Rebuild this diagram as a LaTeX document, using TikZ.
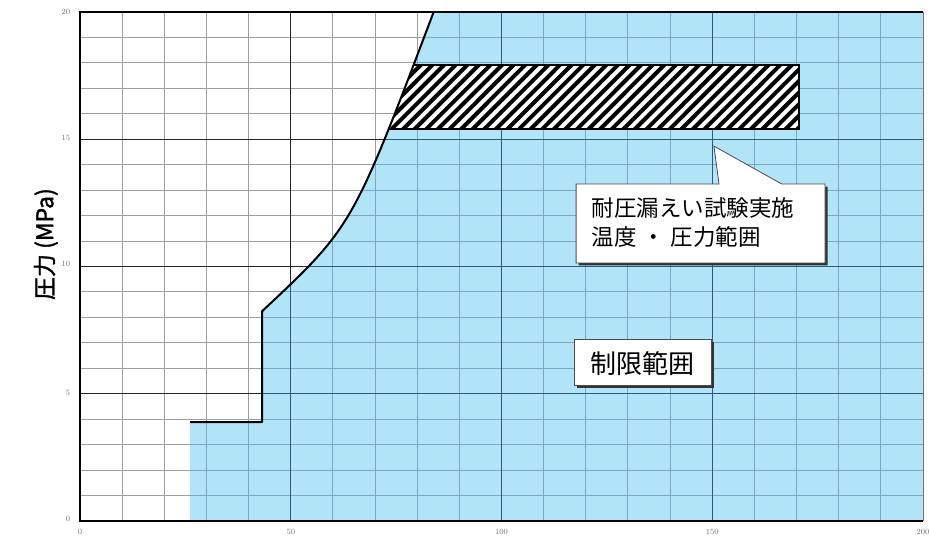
\documentclass[tikz,border=0pt]{standalone}
\usepackage{fontspec}
\newfontfamily\jp{Noto Sans CJK JP}
\newfontfamily\jpb[FakeBold=1.5]{Noto Sans CJK JP}
\definecolor{regionblue}{RGB}{178,228,247}
\definecolor{gridbluecol}{RGB}{120,168,196}
\definecolor{majorbluecol}{RGB}{45,90,120}
\tikzset{
  minorline/.style={black!38, line width=1pt},
  majorline/.style={black!85, line width=1.4pt},
  minorbl/.style={gridbluecol, line width=1pt},
  majorbl/.style={majorbluecol, line width=1.4pt},
  bound/.style={black, line width=2pt, line join=round},
  ticklbl/.style={font=\fontsize{8}{9}\selectfont, text=black!55, inner sep=0pt},
  labelbox/.style={fill=white, draw=black!70, line width=0.8pt},
  shadowbox/.style={fill=black!80},
}
\begin{document}
\begin{tikzpicture}[x=4.215pt, y=25.45pt]
\useasboundingbox (-18.98,-0.6287) rectangle (201.42,20.472);
\fill[white] (-18.98,-0.6287) rectangle (201.42,20.472);
% grey grid over whole plot
\foreach \t in {10,20,...,190} \draw[minorline] (\t,0) -- (\t,20);
\foreach \p in {1,...,19} \draw[minorline] (0,\p) -- (200,\p);
\foreach \t in {50,100,150} \draw[majorline] (\t,0) -- (\t,20);
\foreach \p in {5,10,15} \draw[majorline] (0,\p) -- (200,\p);
% blue restricted region
\def\bluepath{(26.1,0) -- (26.1,3.89) -- (43.18,3.89) -- (43.18,8.24) .. controls (64.67,11.576) and (64.67,11.576) .. (83.9,20) -- (200,20) -- (200,0) -- cycle}
\fill[regionblue] \bluepath;
\begin{scope}
  \clip \bluepath;
  \foreach \t in {10,20,...,190} \draw[minorbl] (\t,0) -- (\t,20);
  \foreach \p in {1,...,19} \draw[minorbl] (0,\p) -- (200,\p);
  \foreach \t in {50,100,150} \draw[majorbl] (\t,0) -- (\t,20);
  \foreach \p in {5,10,15} \draw[majorbl] (0,\p) -- (200,\p);
  % hatched test range
  \begin{scope}
    \clip (60,15.4) rectangle (170.5,17.92);
    \fill[white] (60,15) rectangle (175,18.5);
    \foreach \i in {0,...,46} \draw[line width=4pt] ({55+\i*2.75},15) -- ++(18.1,3);
  \end{scope}
  \draw[black, line width=2pt, line join=miter] (60,17.92) -- (170.5,17.92) -- (170.5,15.4) -- (60,15.4);
\end{scope}
% boundary line
\draw[bound] (26.1,3.89) -- (43.18,3.89) -- (43.18,8.24) .. controls (64.67,11.576) and (64.67,11.576) .. (83.9,20);
% frame
\draw[black!55, line width=1pt] (200,0) -- (200,20);
\draw[black, line width=1.6pt] (200,20) -- (0,20) -- (0,0);
\draw[black, line width=2.6pt] (-0.15,0) -- (200,0);
% tick labels
\node[ticklbl] (x0) at (0,-0.43) {0};
\node[ticklbl] (x50) at (50,-0.43) {50};
\node[ticklbl] (x100) at (100,-0.43) {100};
\node[ticklbl] (x150) at (150,-0.43) {150};
\node[ticklbl] (x200) at (200,-0.43) {200};
\node[ticklbl, anchor=east] (y0) at (-2.3,0.08) {0};
\node[ticklbl, anchor=east] (y5) at (-2.3,5.05) {5};
\node[ticklbl, anchor=east] (y10) at (-2.3,10.1) {10};
\node[ticklbl, anchor=east] (y15) at (-2.3,15.05) {15};
\node[ticklbl, anchor=east] (y20) at (-2.3,20) {20};
% y axis label
\node[rotate=90, inner sep=0pt, font=\jpb\fontsize{23}{26}\selectfont] (ylab) at (-8.1,10.88) {圧力 (MPa)};
% callout
\def\calloutpath{(117.7,13.24) -- (151.6,13.24) -- (150.4,14.73) -- (166.5,13.24) -- (176.75,13.24) -- (176.75,10.14) -- (117.7,10.14) -- cycle}
\fill[shadowbox, xshift=2.5pt, yshift=-2.5pt] \calloutpath;
\draw[labelbox] \calloutpath;
\node[anchor=west, align=left, inner sep=0pt, font=\jp\fontsize{22.5}{29}\selectfont] (calltext) at (121.4,11.72) {耐圧漏えい試験実施\\温度\hspace{0.25em}・\hspace{0.25em}圧力範囲};
% restricted range label
\fill[shadowbox] ([xshift=2.5pt,yshift=-2.5pt]117.4,5.34) rectangle ([xshift=2.5pt,yshift=-2.5pt]149.7,7.15);
\draw[labelbox] (117.4,5.34) rectangle (149.7,7.15);
\node[inner sep=0pt, font=\jp\fontsize{26}{30}\selectfont] (limit) at (133.4,6.2) {制限範囲};
\end{tikzpicture}
\end{document}
